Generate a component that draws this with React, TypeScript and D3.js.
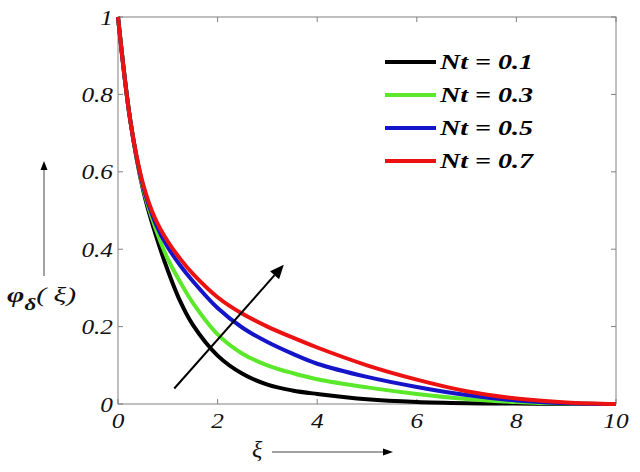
import { curveCatmullRom, line, scaleLinear } from "d3";

// xi grid shared by every curve
const xi = [0, 0.25, 0.5, 0.75, 1, 1.25, 1.5, 2, 2.5, 3, 3.5, 4, 5, 6, 7, 8, 9, 10];

const nt01 = [1, 0.73, 0.555, 0.44, 0.345, 0.265, 0.205, 0.125, 0.078, 0.05, 0.035, 0.026, 0.012, 0.005, 0.002, 0.001, 0, 0];
const nt03 = [1, 0.73, 0.56, 0.455, 0.375, 0.315, 0.262, 0.18, 0.13, 0.1, 0.08, 0.064, 0.043, 0.026, 0.013, 0.005, 0.001, 0];
const nt05 = [1, 0.73, 0.565, 0.468, 0.405, 0.358, 0.318, 0.248, 0.197, 0.16, 0.13, 0.104, 0.07, 0.044, 0.023, 0.009, 0.002, 0];
const nt07 = [1, 0.73, 0.57, 0.478, 0.42, 0.375, 0.337, 0.276, 0.233, 0.2, 0.172, 0.146, 0.1, 0.063, 0.033, 0.014, 0.004, 0];

const seriesLabels = ["Nt = 0.1", "Nt = 0.3", "Nt = 0.5", "Nt = 0.7"];
const seriesValues = [nt01, nt03, nt05, nt07];
const seriesColors = ["#000000", "#5ce82a", "#1414c8", "#ec1212"];

const xTicks = [0, 2, 4, 6, 8, 10];
const yTicks = [0, 0.2, 0.4, 0.6, 0.8, 1];

// arrow drawn inside the plot, in data units
const trendArrow = { from: [1.13, 0.04], to: [3.33, 0.36] };

const width = 640;
const height = 472;
const left = 118;
const right = 616;
const top = 17;
const bottom = 404;
const axisColor = "#808080";
const serif = "'Liberation Serif', 'Times New Roman', Times, serif";

const tickStyle = {
  fontFamily: serif,
  fontStyle: "italic",
  fontSize: 22,
};

export default function App() {
  const x = scaleLinear().domain([0, 10]).range([left, right]);
  const y = scaleLinear().domain([0, 1]).range([bottom, top]);

  const path = line<number>()
    .x((_, i) => x(xi[i]))
    .y((d) => y(d))
    .curve(curveCatmullRom.alpha(0.5));

  const ax = x(trendArrow.from[0]);
  const ay = y(trendArrow.from[1]);
  const bx = x(trendArrow.to[0]);
  const by = y(trendArrow.to[1]);
  const ang = Math.atan2(by - ay, bx - ax);
  const headLen = 14;
  const headW = 6;
  const hx = bx - headLen * Math.cos(ang);
  const hy = by - headLen * Math.sin(ang);
  const head = [
    [bx, by],
    [hx - headW * Math.sin(ang), hy + headW * Math.cos(ang)],
    [hx + headW * Math.sin(ang), hy - headW * Math.cos(ang)],
  ]
    .map((p) => p.join(","))
    .join(" ");

  return (
    <div style={{ position: "fixed", left: 0, top: 0 }}>
      <svg width={width} height={height} style={{ display: "block", background: "#fff" }}>
        {/* plot box */}
        <rect
          x={left}
          y={top}
          width={right - left}
          height={bottom - top}
          fill="none"
          stroke={axisColor}
          strokeWidth={1}
        />
        {xTicks.map((t) => (
          <g key={"x" + t}>
            <line x1={x(t)} x2={x(t)} y1={bottom} y2={bottom - 5} stroke={axisColor} />
            <line x1={x(t)} x2={x(t)} y1={top} y2={top + 5} stroke={axisColor} />
            <text
              transform={`translate(${x(t)},428) scale(1.15,1)`}
              textAnchor="middle"
              style={tickStyle}
              fill="#111"
            >
              {t}
            </text>
          </g>
        ))}
        {yTicks.map((t) => (
          <g key={"y" + t}>
            <line x1={left} x2={left + 5} y1={y(t)} y2={y(t)} stroke={axisColor} />
            <line x1={right} x2={right - 5} y1={y(t)} y2={y(t)} stroke={axisColor} />
            <text
              transform={`translate(113,${y(t) + 7.5}) scale(1.15,1)`}
              textAnchor="end"
              style={tickStyle}
              fill="#111"
            >
              {t}
            </text>
          </g>
        ))}

        {/* curves */}
        {seriesValues.map((vals, i) => (
          <path
            key={seriesLabels[i]}
            d={path(vals) ?? ""}
            fill="none"
            stroke={seriesColors[i]}
            strokeWidth={4}
            strokeLinejoin="round"
          />
        ))}

        {/* trend arrow */}
        <line x1={ax} y1={ay} x2={hx} y2={hy} stroke="#000" strokeWidth={2} />
        <polygon points={head} fill="#000" />

        {/* legend */}
        {seriesLabels.map((lab, i) => {
          const ry = 62 + i * 33;
          return (
            <g key={"leg" + i}>
              <line x1={385} x2={436} y1={ry} y2={ry} stroke={seriesColors[i]} strokeWidth={4} />
              <text
                x={440}
                y={ry + 7}
                textLength={93}
                lengthAdjust="spacingAndGlyphs"
                style={{
                  fontFamily: serif,
                  fontStyle: "italic",
                  fontWeight: "bold",
                  fontSize: 20,
                }}
                fill="#000"
              >
                {lab}
              </text>
            </g>
          );
        })}

        {/* y label and its arrow */}
        <line x1={44} x2={44} y1={276} y2={168} stroke="#444" strokeWidth={1} />
        <polygon points="44,161 40.5,170 47.5,170" fill="#000" />
        <text
          transform="translate(7,302) scale(1.35,1)"
          style={{
            fontFamily: serif,
            fontStyle: "italic",
            fontWeight: "bold",
            fontSize: 22,
          }}
          fill="#111"
        >
          φ
          <tspan fontSize={17} dy={8}>
            δ
          </tspan>
          <tspan dy={-8} fontWeight="normal">
            ( ξ)
          </tspan>
        </text>

        {/* x label and its arrow */}
        <text
          x={252}
          y={457}
          style={{ fontFamily: serif, fontStyle: "italic", fontSize: 24 }}
          fill="#111"
        >
          ξ
        </text>
        <line x1={272} x2={386} y1={452} y2={452} stroke="#444" strokeWidth={1} />
        <polygon points="393,452 383,448.5 383,455.5" fill="#000" />
      </svg>
    </div>
  );
}
